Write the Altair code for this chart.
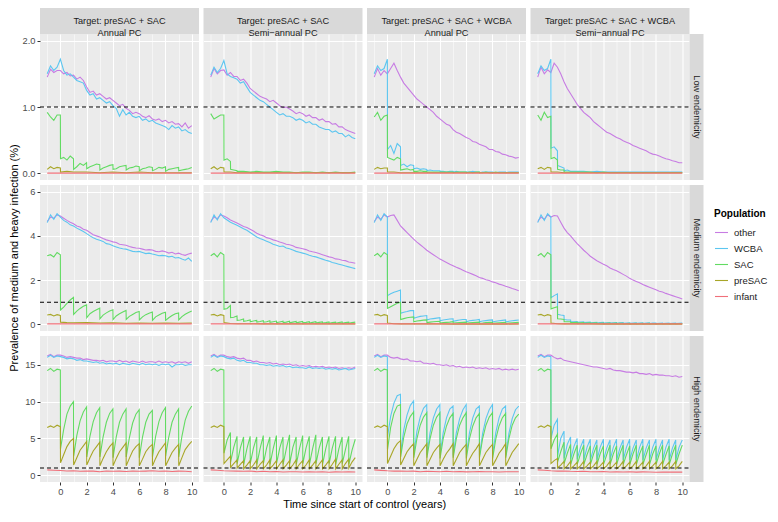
import altair as alt
import pandas as pd

FONT = "Liberation Sans"
POPS = ["other", "WCBA", "SAC", "preSAC", "infant"]
COLORS = ["#C77CE3", "#5CC6F0", "#62DB62", "#A8A628", "#F0707A"]
COL_LABELS = [
    "Target: preSAC + SAC\nAnnual PC",
    "Target: preSAC + SAC\nSemi\u2212annual PC",
    "Target: preSAC + SAC + WCBA\nAnnual PC",
    "Target: preSAC + SAC + WCBA\nSemi\u2212annual PC",
]
ROW_LABELS = ["Low endemicity", "Medium endemicity", "High endemicity"]
X_TITLE = "Time since start of control (years)"
Y_TITLE = "Prevalence of medium and heavy infection (%)"

# ---- time grids (years) ----
TQ = [i / 4 for i in range(-4, 41)]                       # quarterly
TH = [i / 2 for i in range(-2, 21)]                       # half-yearly
TA = [-1, -0.75, -0.5, -0.25] + [k + d for k in range(10) for d in (0, 0.01, 0.25, 0.5, 0.75)] + [10]
TS = [-1, -0.75, -0.5, -0.25] + [k / 2 + d for k in range(20) for d in (0, 0.01, 0.25)] + [10]
TFD = [-1, -0.75, -0.5, -0.25, 0, 0.01, 0.5, 1, 2, 3, 4, 5, 6, 7, 8, 9, 10]
TE = [-1, -0.75, -0.5, -0.25, 0, 0.01, 0.25, 0.5, 0.51, 0.75, 1, 1.01, 1.25, 1.5] + [2 + i / 2 for i in range(17)]
TFLAT = [-1, 10]

# ================= LOW endemicity =================
LOW_C1_OTHER = [1.45, 1.57, 1.52, 1.55,
                1.55, 1.50, 1.52, 1.47, 1.48, 1.42, 1.45, 1.40, 1.30, 1.22, 1.24, 1.18,
                1.20, 1.16, 1.12, 1.14, 1.10, 1.06, 1.02, 1.04, 0.98, 0.95, 0.90, 0.92,
                0.90, 0.86, 0.84, 0.87, 0.82, 0.80, 0.82, 0.78, 0.80, 0.76, 0.78, 0.74,
                0.75, 0.70, 0.76, 0.68, 0.72]
LOW_C1_WCBA = [1.50, 1.62, 1.55, 1.60,
               1.72, 1.55, 1.48, 1.50, 1.45, 1.40, 1.38, 1.36, 1.25, 1.18, 1.20, 1.12,
               1.14, 1.10, 1.06, 1.08, 1.02, 0.98, 0.86, 0.96, 0.88, 0.92, 0.86, 0.84,
               0.86, 0.80, 0.82, 0.78, 0.80, 0.76, 0.74, 0.72, 0.70, 0.66, 0.72, 0.68,
               0.70, 0.64, 0.66, 0.62, 0.60]
LOW_C1_SAC = [0.92, 0.85, 0.80, 0.88,
              0.88, 0.22, 0.24, 0.20, 0.26,
              0.22, 0.06, 0.10, 0.15, 0.12,
              0.16, 0.07, 0.10, 0.12, 0.14,
              0.13, 0.05, 0.08, 0.10, 0.12,
              0.13, 0.06, 0.07, 0.10, 0.11,
              0.12, 0.05, 0.08, 0.09, 0.11,
              0.10, 0.04, 0.07, 0.08, 0.10,
              0.09, 0.04, 0.06, 0.09, 0.08,
              0.10, 0.03, 0.06, 0.07, 0.08,
              0.09, 0.04, 0.05, 0.06, 0.07,
              0.09]
LOW_C1_PRESAC = [0.06, 0.10, 0.07, 0.09, 0.08, 0.02, 0.03, 0.02, 0.02, 0.01, 0.02, 0.01, 0.02, 0.01, 0.01, 0.01, 0.01]
LOW_INF = [0.003, 0.003]

LOW_C2_OTHER = [1.45, 1.58, 1.50, 1.55,
                1.56, 1.48, 1.52, 1.46, 1.46, 1.40, 1.42, 1.36, 1.28, 1.24, 1.20, 1.16,
                1.14, 1.12, 1.08, 1.10, 1.06, 1.02, 0.99, 1.00, 0.97, 0.94, 0.90, 0.92,
                0.90, 0.86, 0.88, 0.84, 0.84, 0.80, 0.82, 0.78, 0.78, 0.74, 0.75, 0.70,
                0.70, 0.66, 0.64, 0.62, 0.60]
LOW_C2_WCBA = [1.48, 1.60, 1.52, 1.58,
               1.70, 1.50, 1.46, 1.44, 1.42, 1.36, 1.38, 1.30, 1.22, 1.18, 1.14, 1.10,
               1.08, 1.04, 1.00, 0.96, 0.92, 0.88, 0.90, 0.86, 0.86, 0.84, 0.80, 0.82,
               0.80, 0.76, 0.78, 0.74, 0.74, 0.70, 0.68, 0.66, 0.66, 0.62, 0.64, 0.60,
               0.60, 0.55, 0.58, 0.54, 0.52]
LOW_C2_SAC = [0.90, 0.82, 0.85, 0.88,
              0.88, 0.20, 0.22, 0.18, 0.06, 0.05, 0.04, 0.03, 0.03, 0.03,
              0.02, 0.03, 0.02, 0.02, 0.03, 0.02, 0.02, 0.01, 0.02, 0.02, 0.01, 0.02, 0.01, 0.02, 0.01, 0.01, 0.02]
LOW_C2_PRESAC = [0.07, 0.10, 0.06, 0.09, 0.08, 0.02, 0.02, 0.01, 0.01, 0.01, 0.01, 0.01, 0.01, 0.01, 0.01, 0.01, 0.01]

LOW_C3_OTHER = [1.45, 1.58, 1.48, 1.55,
                1.50, 1.58, 1.66, 1.55, 1.45, 1.36, 1.30, 1.24, 1.18, 1.12, 1.08, 1.04,
                1.00, 0.96, 0.92, 0.86, 0.82, 0.78, 0.74, 0.72, 0.66, 0.62, 0.60, 0.57,
                0.54, 0.52, 0.48, 0.47, 0.44, 0.42, 0.40, 0.36, 0.36, 0.33, 0.32, 0.29,
                0.28, 0.26, 0.25, 0.23, 0.24]
LOW_C3_WCBA = [1.50, 1.62, 1.55, 1.58,
               1.72, 0.36, 0.42, 0.30, 0.45,
               0.40, 0.12, 0.14, 0.10, 0.13,
               0.12, 0.07, 0.08, 0.06, 0.07,
               0.06, 0.04, 0.05, 0.04, 0.04,
               0.04, 0.03, 0.03, 0.02, 0.03,
               0.03, 0.02, 0.03, 0.02, 0.02,
               0.02, 0.02, 0.02, 0.03, 0.02,
               0.02, 0.01, 0.02, 0.02, 0.02,
               0.02, 0.02, 0.01, 0.02, 0.02,
               0.02, 0.01, 0.02, 0.02, 0.02,
               0.02]
LOW_C3_SAC = [0.85, 0.92, 0.80, 0.86,
              0.88, 0.24, 0.22, 0.20, 0.24,
              0.22, 0.05, 0.06, 0.07, 0.05,
              0.06, 0.03, 0.03, 0.04, 0.03,
              0.03, 0.02, 0.02, 0.02, 0.02,
              0.02, 0.02, 0.02, 0.02, 0.02,
              0.02, 0.01, 0.02, 0.02, 0.02,
              0.02, 0.01, 0.02, 0.01, 0.02,
              0.02, 0.01, 0.01, 0.02, 0.01,
              0.01, 0.01, 0.02, 0.01, 0.01,
              0.01, 0.01, 0.01, 0.01, 0.01,
              0.01]
LOW_C3_PRESAC = [0.06, 0.09, 0.07, 0.08, 0.08, 0.02, 0.02, 0.01, 0.01, 0.01, 0.01, 0.01, 0.01, 0.01, 0.01, 0.01, 0.01]

LOW_C4_OTHER = [1.45, 1.60, 1.50, 1.56,
                1.52, 1.66, 1.60, 1.50, 1.38, 1.28, 1.20, 1.12, 1.04, 0.98, 0.92, 0.88,
                0.84, 0.78, 0.74, 0.70, 0.66, 0.62, 0.60, 0.57, 0.54, 0.52, 0.49, 0.47,
                0.45, 0.42, 0.40, 0.38, 0.36, 0.34, 0.31, 0.29, 0.28, 0.26, 0.24, 0.22,
                0.21, 0.19, 0.18, 0.16, 0.16]
LOW_C4_WCBA = [1.50, 1.62, 1.55, 1.58,
               1.72, 0.38, 0.40, 0.34, 0.12, 0.10, 0.08, 0.04, 0.05, 0.03,
               0.03, 0.03, 0.02, 0.03, 0.02, 0.02, 0.02, 0.02, 0.02, 0.02, 0.02, 0.02, 0.02, 0.02, 0.02, 0.02, 0.02]
LOW_C4_SAC = [0.88, 0.80, 0.92, 0.84,
              0.86, 0.22, 0.24, 0.20, 0.06, 0.05, 0.05, 0.02, 0.02, 0.02,
              0.02, 0.02, 0.02, 0.01, 0.02, 0.01, 0.01, 0.01, 0.01, 0.01, 0.01, 0.01, 0.01, 0.01, 0.01, 0.01, 0.01]
LOW_C4_PRESAC = [0.07, 0.09, 0.06, 0.09, 0.08, 0.02, 0.02, 0.01, 0.01, 0.01, 0.01, 0.01, 0.01, 0.01, 0.01, 0.01, 0.01]

# ================= MEDIUM endemicity =================
MED_C1_OTHER = [4.65, 4.85, 4.80, 4.95,
                4.90, 4.80, 4.70, 4.62, 4.55, 4.45, 4.40, 4.30, 4.25, 4.15, 4.05, 4.00,
                3.95, 3.88, 3.82, 3.78, 3.73, 3.70, 3.62, 3.60, 3.58, 3.52, 3.48, 3.45,
                3.44, 3.40, 3.36, 3.38, 3.36, 3.30, 3.28, 3.32, 3.28, 3.22, 3.26, 3.18,
                3.22, 3.16, 3.12, 3.18, 3.22]
MED_C1_WCBA = [4.60, 4.95, 4.75, 5.00,
               4.85, 4.70, 4.62, 4.50, 4.45, 4.35, 4.28, 4.20, 4.10, 4.00, 3.92, 3.85,
               3.80, 3.75, 3.65, 3.62, 3.55, 3.50, 3.45, 3.42, 3.40, 3.35, 3.30, 3.28,
               3.30, 3.25, 3.20, 3.22, 3.18, 3.15, 3.10, 3.12, 3.10, 3.05, 3.08, 3.00,
               3.02, 2.95, 2.90, 3.00, 2.85]
MED_C1_SAC = [3.10, 3.15, 3.05, 3.25,
              3.15, 0.65, 0.78, 0.95, 1.10,
              1.22, 0.45, 0.60, 0.72, 0.82,
              0.88, 0.30, 0.48, 0.58, 0.66,
              0.73, 0.25, 0.42, 0.52, 0.60,
              0.66, 0.22, 0.38, 0.48, 0.56,
              0.63, 0.22, 0.36, 0.45, 0.54,
              0.58, 0.20, 0.34, 0.44, 0.50,
              0.56, 0.18, 0.34, 0.42, 0.50,
              0.55, 0.18, 0.30, 0.40, 0.48,
              0.52, 0.20, 0.35, 0.46, 0.54,
              0.60]
MED_C1_PRESAC = [0.42, 0.45, 0.38, 0.44, 0.40, 0.10, 0.08, 0.07, 0.08, 0.06, 0.07, 0.05, 0.06, 0.05, 0.06, 0.05, 0.06]
MED_INF = [0.02, 0.02]

MED_C2_OTHER = [4.65, 4.85, 4.78, 4.95,
                4.90, 4.82, 4.72, 4.65, 4.58, 4.50, 4.42, 4.38, 4.30, 4.22, 4.12, 4.05,
                4.00, 3.92, 3.88, 3.82, 3.78, 3.72, 3.68, 3.62, 3.60, 3.55, 3.48, 3.45,
                3.42, 3.38, 3.32, 3.28, 3.25, 3.20, 3.15, 3.10, 3.05, 3.02, 2.96, 2.94,
                2.90, 2.88, 2.82, 2.80, 2.76]
MED_C2_WCBA = [4.60, 4.95, 4.72, 5.00,
               4.82, 4.72, 4.62, 4.55, 4.48, 4.40, 4.32, 4.25, 4.15, 4.05, 3.95, 3.88,
               3.82, 3.76, 3.70, 3.62, 3.58, 3.52, 3.54, 3.45, 3.42, 3.36, 3.30, 3.26,
               3.22, 3.18, 3.12, 3.08, 3.05, 3.00, 2.95, 2.90, 2.86, 2.80, 2.76, 2.72,
               2.68, 2.64, 2.60, 2.56, 2.52]
MED_C2_SAC = [3.10, 3.20, 3.05, 3.25,
              3.15, 0.68, 0.72,
              0.85, 0.30, 0.32,
              0.38, 0.18, 0.20,
              0.24, 0.14, 0.16,
              0.20, 0.12, 0.15,
              0.18, 0.10, 0.13,
              0.17, 0.10, 0.12,
              0.16, 0.09, 0.12,
              0.15, 0.08, 0.11,
              0.14, 0.08, 0.10,
              0.14, 0.07, 0.10,
              0.13, 0.07, 0.10,
              0.13, 0.07, 0.09,
              0.12, 0.06, 0.09,
              0.12, 0.06, 0.09,
              0.11, 0.06, 0.08,
              0.11, 0.05, 0.08,
              0.10, 0.05, 0.08,
              0.11, 0.05, 0.08,
              0.10, 0.05, 0.08,
              0.10]
MED_C2_PRESAC = [0.42, 0.45, 0.38, 0.44, 0.40, 0.08, 0.04, 0.03, 0.03, 0.02, 0.02, 0.02, 0.02, 0.02, 0.02, 0.02, 0.02]

MED_C3_OTHER = [4.65, 4.85, 4.75, 4.95,
                4.85, 4.92, 4.95, 4.70, 4.45, 4.30, 4.15, 4.00, 3.85, 3.72, 3.60, 3.48,
                3.35, 3.25, 3.15, 3.05, 2.95, 2.88, 2.80, 2.72, 2.65, 2.58, 2.52, 2.45,
                2.38, 2.32, 2.26, 2.20, 2.12, 2.08, 2.02, 1.98, 1.92, 1.88, 1.82, 1.78,
                1.72, 1.68, 1.62, 1.58, 1.52]
MED_C3_WCBA = [4.60, 4.95, 4.70, 5.00,
               4.85, 1.30, 1.38, 1.45, 1.50,
               1.55, 0.50, 0.55, 0.58, 0.62,
               0.62, 0.28, 0.32, 0.36, 0.38,
               0.40, 0.20, 0.24, 0.26, 0.28,
               0.30, 0.16, 0.20, 0.22, 0.24,
               0.25, 0.14, 0.17, 0.20, 0.22,
               0.22, 0.12, 0.16, 0.18, 0.20,
               0.22, 0.12, 0.15, 0.17, 0.19,
               0.20, 0.11, 0.14, 0.16, 0.18,
               0.20, 0.10, 0.14, 0.16, 0.18,
               0.20]
MED_C3_SAC = [3.10, 3.20, 3.05, 3.25,
              3.15, 0.72, 0.80, 0.88, 0.95,
              1.00, 0.22, 0.26, 0.30, 0.32,
              0.34, 0.12, 0.15, 0.17, 0.19,
              0.20, 0.08, 0.10, 0.12, 0.13,
              0.14, 0.06, 0.08, 0.09, 0.10,
              0.12, 0.06, 0.07, 0.08, 0.09,
              0.10, 0.05, 0.07, 0.08, 0.09,
              0.10, 0.05, 0.06, 0.08, 0.09,
              0.09, 0.05, 0.06, 0.07, 0.08,
              0.09, 0.04, 0.06, 0.07, 0.08,
              0.09]
MED_C3_PRESAC = [0.42, 0.45, 0.38, 0.44, 0.40, 0.06, 0.03, 0.02, 0.02, 0.02, 0.02, 0.01, 0.02, 0.01, 0.02, 0.01, 0.02]

MED_C4_OTHER = [4.65, 4.85, 4.75, 4.95,
                4.85, 4.92, 4.90, 4.62, 4.35, 4.15, 4.00, 3.82, 3.65, 3.50, 3.35, 3.22,
                3.08, 2.98, 2.88, 2.80, 2.72, 2.65, 2.55, 2.48, 2.42, 2.34, 2.26, 2.18,
                2.08, 2.00, 1.94, 1.88, 1.80, 1.74, 1.68, 1.62, 1.56, 1.50, 1.46, 1.40,
                1.35, 1.30, 1.25, 1.20, 1.15]
MED_C4_WCBA = [4.60, 4.95, 4.70, 5.00,
               4.85, 1.20, 1.30,
               1.38, 0.45, 0.42,
               0.40, 0.22, 0.20,
               0.20, 0.12, 0.12,
               0.13, 0.09, 0.10,
               0.11, 0.08, 0.09,
               0.10, 0.07, 0.08,
               0.09, 0.06, 0.08,
               0.09, 0.06, 0.07,
               0.08, 0.06, 0.07,
               0.08, 0.05, 0.07,
               0.08, 0.05, 0.06,
               0.07, 0.05, 0.06,
               0.07, 0.05, 0.06,
               0.07, 0.04, 0.06,
               0.07, 0.04, 0.06,
               0.06, 0.04, 0.05,
               0.06, 0.04, 0.05,
               0.06, 0.04, 0.05,
               0.06, 0.04, 0.05,
               0.06]
MED_C4_SAC = [3.10, 3.20, 3.05, 3.25,
              3.15, 0.70, 0.75,
              0.80, 0.25, 0.24,
              0.22, 0.12, 0.12,
              0.12, 0.08, 0.08,
              0.09, 0.06, 0.07,
              0.08, 0.05, 0.06,
              0.07, 0.05, 0.06,
              0.07, 0.04, 0.05,
              0.06, 0.04, 0.05,
              0.06, 0.04, 0.05,
              0.06, 0.04, 0.05,
              0.05, 0.03, 0.04,
              0.05, 0.03, 0.04,
              0.05, 0.03, 0.04,
              0.05, 0.03, 0.04,
              0.05, 0.03, 0.04,
              0.04, 0.03, 0.04,
              0.04, 0.03, 0.04,
              0.04, 0.03, 0.04,
              0.04, 0.03, 0.04,
              0.04]
MED_C4_PRESAC = [0.42, 0.45, 0.38, 0.44, 0.40, 0.06, 0.03, 0.02, 0.02, 0.02, 0.01, 0.01, 0.01, 0.01, 0.01, 0.01, 0.01]

# ================= HIGH endemicity =================
HIGH_C1_OTHER = [16.2, 16.4, 16.1, 16.3,
                 16.3, 16.2, 16.0, 16.1, 16.0, 15.9, 15.9, 15.7, 15.8, 15.7, 15.6, 15.6,
                 15.5, 15.6, 15.4, 15.5, 15.5, 15.4, 15.6, 15.4, 15.5, 15.3, 15.5, 15.4,
                 15.3, 15.5, 15.3, 15.4, 15.4, 15.3, 15.5, 15.3, 15.4, 15.3, 15.4, 15.2,
                 15.4, 15.3, 15.4, 15.2, 15.4]
HIGH_C1_WCBA = [16.0, 16.3, 16.0, 16.2,
                16.1, 16.0, 15.8, 15.9, 15.8, 15.6, 15.7, 15.5, 15.5, 15.4, 15.3, 15.4,
                15.2, 15.3, 15.1, 15.2, 15.1, 15.2, 15.0, 15.2, 15.1, 15.0, 15.2, 15.1,
                15.0, 15.2, 15.0, 15.1, 15.0, 15.1, 14.9, 15.1, 15.0, 15.1, 14.7, 15.0,
                15.0, 15.1, 14.9, 15.0, 15.0]
HIGH_C1_SAC = [14.2, 14.5, 14.1, 14.4,
               14.3, 3.6, 6.2, 8.3, 9.4,
               10.0, 2.6, 5.4, 7.4, 8.6,
               9.3, 2.5, 5.3, 7.3, 8.5,
               9.2, 2.5, 5.2, 7.2, 8.4,
               9.0, 2.4, 5.2, 7.2, 8.3,
               9.0, 2.5, 5.1, 7.1, 8.3,
               8.9, 2.4, 5.2, 7.2, 8.3,
               8.8, 2.5, 5.3, 7.3, 8.5,
               9.2, 2.6, 5.2, 7.2, 8.3,
               9.0, 2.5, 5.3, 7.5, 8.7,
               9.4]
HIGH_C1_PRESAC = [6.5, 6.7, 6.5, 6.8,
                  6.6, 1.7, 2.8, 3.9, 4.6,
                  5.0, 1.4, 2.4, 3.4, 4.0,
                  4.6, 1.4, 2.4, 3.3, 3.9,
                  4.5, 1.3, 2.3, 3.2, 3.9,
                  4.4, 1.3, 2.3, 3.2, 3.8,
                  4.4, 1.3, 2.3, 3.3, 3.9,
                  4.3, 1.3, 2.2, 3.2, 3.8,
                  4.2, 1.3, 2.3, 3.2, 3.8,
                  4.4, 1.3, 2.2, 3.1, 3.7,
                  4.2, 1.3, 2.4, 3.5, 4.1,
                  4.6]
HIGH_C1_INF = [0.75, 0.70, 0.65, 0.60, 0.62, 0.55, 0.60, 0.58, 0.50, 0.60, 0.55, 0.58,
               0.52, 0.60, 0.55, 0.58, 0.62, 0.55, 0.60, 0.52, 0.58, 0.55, 0.50]

HIGH_C2_OTHER = [16.2, 16.4, 16.1, 16.3,
                 16.3, 16.1, 16.0, 16.1, 15.9, 15.8, 15.9, 15.6, 15.6, 15.4, 15.5, 15.3,
                 15.3, 15.2, 15.3, 15.1, 15.2, 15.0, 15.1, 15.0, 15.1, 14.9, 15.0, 14.8,
                 14.9, 14.8, 14.9, 14.7, 14.8, 14.7, 14.8, 14.6, 14.7, 14.6, 14.7, 14.5,
                 14.6, 14.5, 14.6, 14.5, 14.7]
HIGH_C2_WCBA = [16.0, 16.3, 16.0, 16.2,
                16.1, 15.9, 15.8, 15.9, 15.6, 15.5, 15.6, 15.3, 15.3, 15.2, 15.2, 15.0,
                15.0, 14.9, 15.0, 14.8, 14.9, 14.8, 14.9, 14.7, 14.8, 14.6, 14.7, 14.6,
                14.6, 14.5, 14.7, 14.5, 14.6, 14.5, 14.6, 14.4, 14.5, 14.4, 14.5, 14.3,
                14.4, 14.5, 14.3, 14.4, 14.5]
HIGH_C2_SAC = [14.2, 14.5, 14.1, 14.4,
               14.3, 3.0, 4.8,
               5.8, 1.8, 3.8,
               5.3, 1.6, 3.7,
               5.2, 1.5, 3.6,
               5.3, 1.6, 3.7,
               5.2, 1.5, 3.6,
               5.4, 1.6, 3.7,
               5.2, 1.5, 3.6,
               5.4, 1.6, 3.7,
               5.2, 1.5, 3.6,
               5.5, 1.6, 3.8,
               5.2, 1.5, 3.6,
               5.4, 1.6, 3.7,
               5.3, 1.5, 3.6,
               5.5, 1.6, 3.7,
               5.2, 1.5, 3.6,
               5.3, 1.6, 3.7,
               5.3, 1.5, 3.6,
               5.2, 1.6, 3.5,
               5.3, 1.5, 3.4,
               4.9]
HIGH_C2_PRESAC = [6.5, 6.7, 6.5, 6.8,
                  6.6, 1.6, 2.1,
                  2.6, 1.1, 1.6,
                  2.1, 1.0, 1.5,
                  2.0, 0.9, 1.4,
                  2.0, 0.9, 1.4,
                  2.1, 0.9, 1.5,
                  2.0, 0.9, 1.4,
                  2.1, 0.9, 1.4,
                  2.0, 0.9, 1.5,
                  2.1, 0.9, 1.4,
                  2.0, 0.9, 1.4,
                  2.1, 0.9, 1.5,
                  2.0, 0.9, 1.4,
                  2.1, 0.9, 1.4,
                  2.0, 0.9, 1.5,
                  2.1, 0.9, 1.4,
                  2.0, 0.9, 1.5,
                  2.2, 0.9, 1.5,
                  2.1, 0.9, 1.6,
                  2.2, 1.0, 1.8,
                  2.4]
HIGH_C2_INF = [0.75, 0.70, 0.62, 0.60, 0.58, 0.55, 0.60, 0.50, 0.55, 0.48, 0.52, 0.45,
               0.50, 0.48, 0.45, 0.50, 0.45, 0.48, 0.42, 0.47, 0.45, 0.48, 0.46]

HIGH_C3_OTHER = [16.2, 16.4, 16.1, 16.3,
                 16.3, 16.0, 15.9, 16.0, 15.8, 15.7, 15.8, 15.5, 15.5, 15.4, 15.5, 15.2,
                 15.2, 15.1, 15.2, 15.0, 15.0, 14.9, 15.0, 14.8, 14.9, 14.7, 14.8, 14.6,
                 14.7, 14.6, 14.7, 14.5, 14.6, 14.5, 14.6, 14.4, 14.5, 14.4, 14.5, 14.3,
                 14.4, 14.3, 14.4, 14.3, 14.4]
HIGH_C3_WCBA = [16.0, 16.3, 16.0, 16.2,
                16.1, 5.2, 8.0, 9.8, 10.8,
                11.0, 3.0, 6.2, 8.2, 9.5,
                10.1, 2.8, 6.0, 7.9, 9.1,
                9.6, 2.8, 5.8, 7.8, 9.0,
                9.6, 2.8, 5.8, 7.8, 9.0,
                9.4, 2.7, 5.8, 7.7, 8.9,
                9.6, 2.8, 5.8, 7.8, 9.0,
                9.4, 2.7, 5.7, 7.7, 8.9,
                9.6, 2.8, 5.8, 7.8, 9.0,
                9.4, 2.7, 5.7, 7.7, 8.9,
                9.4]
HIGH_C3_SAC = [14.2, 14.5, 14.1, 14.4,
               14.3, 3.5, 6.5, 8.4, 9.4,
               9.6, 2.5, 5.2, 7.0, 8.0,
               8.6, 2.4, 5.0, 6.8, 7.9,
               8.5, 2.4, 5.0, 6.8, 7.9,
               8.5, 2.3, 5.0, 6.7, 7.8,
               8.4, 2.4, 5.0, 6.8, 7.8,
               8.5, 2.3, 5.0, 6.7, 7.8,
               8.4, 2.4, 5.0, 6.8, 7.9,
               8.5, 2.3, 4.9, 6.7, 7.8,
               8.4, 2.4, 5.0, 6.8, 7.8,
               8.3]
HIGH_C3_PRESAC = [6.5, 6.7, 6.5, 6.8,
                  6.6, 1.6, 2.6, 3.6, 4.3,
                  4.7, 1.4, 2.3, 3.2, 3.8,
                  4.3, 1.3, 2.2, 3.1, 3.7,
                  4.3, 1.3, 2.2, 3.1, 3.7,
                  4.2, 1.3, 2.2, 3.0, 3.6,
                  4.3, 1.3, 2.2, 3.1, 3.7,
                  4.2, 1.3, 2.2, 3.0, 3.6,
                  4.3, 1.3, 2.2, 3.1, 3.7,
                  4.2, 1.3, 2.1, 3.0, 3.6,
                  4.3, 1.3, 2.2, 3.1, 3.7,
                  4.3]
HIGH_C3_INF = [0.75, 0.68, 0.62, 0.58, 0.60, 0.55, 0.58, 0.50, 0.55, 0.52, 0.48, 0.55,
               0.50, 0.52, 0.47, 0.50, 0.52, 0.48, 0.50, 0.46, 0.50, 0.48, 0.50]

HIGH_C4_OTHER = [16.2, 16.4, 16.1, 16.3,
                 16.3, 16.0, 15.8, 15.9, 15.6, 15.5, 15.4, 15.3, 15.2, 15.1, 15.0, 14.9,
                 14.8, 14.7, 14.7, 14.6, 14.5, 14.4, 14.5, 14.3, 14.2, 14.2, 14.1, 14.0,
                 14.0, 13.9, 14.0, 13.8, 13.8, 13.7, 13.8, 13.6, 13.7, 13.6, 13.6, 13.5,
                 13.5, 13.4, 13.5, 13.3, 13.4]
HIGH_C4_WCBA = [16.0, 16.3, 16.0, 16.2,
                16.1, 5.0, 6.8,
                7.6, 2.6, 5.0,
                6.0, 2.3, 4.2,
                5.2, 2.2, 3.9,
                5.0, 2.2, 3.8,
                4.9, 2.1, 3.8,
                4.9, 2.1, 3.7,
                4.8, 2.1, 3.8,
                4.9, 2.1, 3.7,
                4.8, 2.1, 3.8,
                4.9, 2.1, 3.7,
                4.8, 2.1, 3.8,
                4.9, 2.1, 3.7,
                4.8, 2.1, 3.8,
                4.9, 2.1, 3.7,
                4.8, 2.1, 3.8,
                4.9, 2.1, 3.7,
                4.8, 2.1, 3.8,
                4.9, 2.1, 3.7,
                4.8, 2.1, 3.8,
                4.8]
HIGH_C4_SAC = [14.2, 14.5, 14.1, 14.4,
               14.3, 3.6, 4.8,
               5.6, 1.8, 3.2,
               4.5, 1.6, 3.0,
               4.2, 1.5, 2.9,
               4.1, 1.5, 2.9,
               4.1, 1.5, 2.8,
               4.0, 1.5, 2.9,
               4.1, 1.5, 2.9,
               4.0, 1.5, 2.8,
               4.1, 1.5, 2.9,
               4.0, 1.5, 2.9,
               4.1, 1.5, 2.8,
               4.0, 1.5, 2.9,
               4.1, 1.5, 2.9,
               4.0, 1.5, 2.8,
               4.1, 1.5, 2.9,
               4.0, 1.5, 2.9,
               4.1, 1.5, 2.8,
               4.0, 1.5, 2.9,
               4.1, 1.5, 2.9,
               4.1]
HIGH_C4_PRESAC = [6.5, 6.7, 6.5, 6.8,
                  6.6, 1.6, 2.0,
                  2.3, 1.0, 1.4,
                  1.9, 0.9, 1.3,
                  1.9, 0.9, 1.3,
                  1.8, 0.9, 1.3,
                  1.9, 0.9, 1.3,
                  1.8, 0.9, 1.3,
                  1.9, 0.9, 1.3,
                  1.8, 0.9, 1.3,
                  1.9, 0.9, 1.3,
                  1.8, 0.9, 1.3,
                  1.9, 0.9, 1.3,
                  1.8, 0.9, 1.3,
                  1.9, 0.9, 1.3,
                  1.8, 0.9, 1.3,
                  1.9, 0.9, 1.3,
                  1.8, 0.9, 1.3,
                  1.9, 0.9, 1.3,
                  1.8, 0.9, 1.3,
                  1.9, 0.9, 1.3,
                  1.9]
HIGH_C4_INF = [0.75, 0.70, 0.62, 0.58, 0.60, 0.55, 0.52, 0.55, 0.50, 0.48, 0.52, 0.46,
               0.48, 0.45, 0.50, 0.44, 0.47, 0.45, 0.43, 0.46, 0.44, 0.45, 0.44]

# (name, row, col, population, times, values)
SERIES = [
    ("L1o", 0, 0, "other", TQ, LOW_C1_OTHER), ("L1w", 0, 0, "WCBA", TQ, LOW_C1_WCBA),
    ("L1s", 0, 0, "SAC", TA, LOW_C1_SAC), ("L1p", 0, 0, "preSAC", TFD, LOW_C1_PRESAC),
    ("L1i", 0, 0, "infant", TFLAT, LOW_INF),
    ("L2o", 0, 1, "other", TQ, LOW_C2_OTHER), ("L2w", 0, 1, "WCBA", TQ, LOW_C2_WCBA),
    ("L2s", 0, 1, "SAC", TE, LOW_C2_SAC), ("L2p", 0, 1, "preSAC", TFD, LOW_C2_PRESAC),
    ("L2i", 0, 1, "infant", TFLAT, LOW_INF),
    ("L3o", 0, 2, "other", TQ, LOW_C3_OTHER), ("L3w", 0, 2, "WCBA", TA, LOW_C3_WCBA),
    ("L3s", 0, 2, "SAC", TA, LOW_C3_SAC), ("L3p", 0, 2, "preSAC", TFD, LOW_C3_PRESAC),
    ("L3i", 0, 2, "infant", TFLAT, LOW_INF),
    ("L4o", 0, 3, "other", TQ, LOW_C4_OTHER), ("L4w", 0, 3, "WCBA", TE, LOW_C4_WCBA),
    ("L4s", 0, 3, "SAC", TE, LOW_C4_SAC), ("L4p", 0, 3, "preSAC", TFD, LOW_C4_PRESAC),
    ("L4i", 0, 3, "infant", TFLAT, LOW_INF),
    ("M1o", 1, 0, "other", TQ, MED_C1_OTHER), ("M1w", 1, 0, "WCBA", TQ, MED_C1_WCBA),
    ("M1s", 1, 0, "SAC", TA, MED_C1_SAC), ("M1p", 1, 0, "preSAC", TFD, MED_C1_PRESAC),
    ("M1i", 1, 0, "infant", TFLAT, MED_INF),
    ("M2o", 1, 1, "other", TQ, MED_C2_OTHER), ("M2w", 1, 1, "WCBA", TQ, MED_C2_WCBA),
    ("M2s", 1, 1, "SAC", TS, MED_C2_SAC), ("M2p", 1, 1, "preSAC", TFD, MED_C2_PRESAC),
    ("M2i", 1, 1, "infant", TFLAT, MED_INF),
    ("M3o", 1, 2, "other", TQ, MED_C3_OTHER), ("M3w", 1, 2, "WCBA", TA, MED_C3_WCBA),
    ("M3s", 1, 2, "SAC", TA, MED_C3_SAC), ("M3p", 1, 2, "preSAC", TFD, MED_C3_PRESAC),
    ("M3i", 1, 2, "infant", TFLAT, MED_INF),
    ("M4o", 1, 3, "other", TQ, MED_C4_OTHER), ("M4w", 1, 3, "WCBA", TS, MED_C4_WCBA),
    ("M4s", 1, 3, "SAC", TS, MED_C4_SAC), ("M4p", 1, 3, "preSAC", TFD, MED_C4_PRESAC),
    ("M4i", 1, 3, "infant", TFLAT, MED_INF),
    ("H1o", 2, 0, "other", TQ, HIGH_C1_OTHER), ("H1w", 2, 0, "WCBA", TQ, HIGH_C1_WCBA),
    ("H1s", 2, 0, "SAC", TA, HIGH_C1_SAC), ("H1p", 2, 0, "preSAC", TA, HIGH_C1_PRESAC),
    ("H1i", 2, 0, "infant", TH, HIGH_C1_INF),
    ("H2o", 2, 1, "other", TQ, HIGH_C2_OTHER), ("H2w", 2, 1, "WCBA", TQ, HIGH_C2_WCBA),
    ("H2s", 2, 1, "SAC", TS, HIGH_C2_SAC), ("H2p", 2, 1, "preSAC", TS, HIGH_C2_PRESAC),
    ("H2i", 2, 1, "infant", TH, HIGH_C2_INF),
    ("H3o", 2, 2, "other", TQ, HIGH_C3_OTHER), ("H3w", 2, 2, "WCBA", TA, HIGH_C3_WCBA),
    ("H3s", 2, 2, "SAC", TA, HIGH_C3_SAC), ("H3p", 2, 2, "preSAC", TA, HIGH_C3_PRESAC),
    ("H3i", 2, 2, "infant", TH, HIGH_C3_INF),
    ("H4o", 2, 3, "other", TQ, HIGH_C4_OTHER), ("H4w", 2, 3, "WCBA", TS, HIGH_C4_WCBA),
    ("H4s", 2, 3, "SAC", TS, HIGH_C4_SAC), ("H4p", 2, 3, "preSAC", TS, HIGH_C4_PRESAC),
    ("H4i", 2, 3, "infant", TH, HIGH_C4_INF),
]

records = []
for name, r, c, pop, ts, vs in SERIES:
    if len(ts) != len(vs):
        raise ValueError(f"{name}: {len(ts)} times vs {len(vs)} values")
    for t, v in zip(ts, vs):
        records.append({"row": r, "col": c, "pop": pop, "t": t, "v": v})
df = pd.DataFrame(records)

# ---- layout ----
W, H = 159, 146
GX, GY = 4.5, 5
STRIP_H, STRIP_W = 26, 14
XDOM = [-1.55, 10.55]
YDOMS = [[-0.1, 2.1], [-0.3, 6.3], [-0.9, 18.9]]
YVALS = [[0, 0.25, 0.5, 0.75, 1, 1.25, 1.5, 1.75, 2],
         [0, 1, 2, 3, 4, 5, 6],
         [0, 2.5, 5, 7.5, 10, 12.5, 15, 17.5]]
YMAJOR = ["round(datum.value * 4) % 2 === 0", "datum.value % 2 === 0", "datum.value % 5 === 0"]
YFMT = [".1f", "d", "d"]
XMAJOR = "datum.value % 2 === 0"
LABEL_COLOR = "#4D4D4D"
TICK_COLOR = "#333333"
DUMMY = pd.DataFrame({"k": [0]})


def cond(test, a, b):
    return {"condition": {"test": test, "value": a}, "value": b}


def x_axis(bottom):
    common = dict(values=list(range(-1, 11)), grid=True, gridColor="white",
                  gridWidth=cond(XMAJOR, 1.1, 0.5), domain=False, title=None)
    if bottom:
        return alt.Axis(**common, format="d", labelExpr=f"{XMAJOR} ? datum.label : ''",
                        tickOpacity=cond(XMAJOR, 1, 0), tickColor=TICK_COLOR, tickSize=3,
                        tickWidth=1, labelColor=LABEL_COLOR, labelFont=FONT, labelFontSize=9.3,
                        labelPadding=2, labelFlush=False, labelOverlap=False)
    return alt.Axis(**common, labels=False, ticks=False)


def y_axis(r, left):
    test = YMAJOR[r]
    common = dict(values=YVALS[r], grid=True, gridColor="white",
                  gridWidth=cond(test, 1.1, 0.5), domain=False, title=None)
    if left:
        return alt.Axis(**common, format=YFMT[r], labelExpr=f"{test} ? datum.label : ''",
                        tickOpacity=cond(test, 1, 0), tickColor=TICK_COLOR, tickSize=3,
                        tickWidth=1, labelColor=LABEL_COLOR, labelFont=FONT, labelFontSize=9.3,
                        labelPadding=2, labelFlush=False, labelOverlap=False)
    return alt.Axis(**common, labels=False, ticks=False)


LEGEND = alt.Legend(title="Population", orient="none", legendX=674, legendY=175,
                    symbolType="stroke", symbolSize=169, symbolStrokeWidth=1.1,
                    labelFont=FONT, labelFontSize=9.5, labelColor="#1A1A1A",
                    titleFont=FONT, titleFontSize=10, titleFontWeight="bold", titleColor="black",
                    rowPadding=4, titlePadding=6, labelOffset=5, padding=0)


def panel(r, c):
    sub = df[(df["row"] == r) & (df["col"] == c)]
    lines = alt.Chart(sub).mark_line(strokeWidth=1.1).encode(
        x=alt.X("t:Q", scale=alt.Scale(domain=XDOM, nice=False, zero=False), axis=x_axis(r == 2)),
        y=alt.Y("v:Q", scale=alt.Scale(domain=YDOMS[r], nice=False, zero=False), axis=y_axis(r, c == 0)),
        color=alt.Color("pop:N", scale=alt.Scale(domain=POPS, range=COLORS), legend=LEGEND),
    )
    rule = alt.Chart(DUMMY).mark_rule(color="black", strokeDash=[4, 3], strokeWidth=1.1).encode(
        y=alt.datum(1), x=alt.value(0), x2=alt.value(W))
    layers = [lines, rule]
    if r == 0:
        layers.append(alt.Chart(DUMMY).mark_rect(fill="#D9D9D9").encode(
            x=alt.value(0), x2=alt.value(W), y=alt.value(-STRIP_H), y2=alt.value(0)))
        layers.append(alt.Chart(DUMMY).mark_text(
            font=FONT, fontSize=9.2, color="#1A1A1A", lineBreak="\n", lineHeight=11.5,
            align="center", baseline="middle").encode(
            x=alt.value(W / 2), y=alt.value(-STRIP_H / 2), text=alt.value(COL_LABELS[c])))
    if c == 3:
        layers.append(alt.Chart(DUMMY).mark_rect(fill="#D9D9D9").encode(
            x=alt.value(W), x2=alt.value(W + STRIP_W), y=alt.value(0), y2=alt.value(H)))
        layers.append(alt.Chart(DUMMY).mark_text(
            font=FONT, fontSize=9.2, color="#1A1A1A", angle=90,
            align="center", baseline="middle").encode(
            x=alt.value(W + STRIP_W / 2), y=alt.value(H / 2), text=alt.value(ROW_LABELS[r])))
    if r == 2 and c == 1:
        layers.append(alt.Chart(DUMMY).mark_text(
            font=FONT, fontSize=11, color="black", align="center", baseline="middle").encode(
            x=alt.value(W + GX / 2), y=alt.value(H + 23), text=alt.value(X_TITLE)))
    if r == 1 and c == 0:
        layers.append(alt.Chart(DUMMY).mark_text(
            font=FONT, fontSize=11, color="black", angle=270, align="center", baseline="middle").encode(
            x=alt.value(-25), y=alt.value(H / 2), text=alt.value(Y_TITLE)))
    return alt.layer(*layers).properties(width=W, height=H)


chart = (
    alt.concat(*[panel(r, c) for r in range(3) for c in range(4)],
               columns=4, spacing={"row": GY, "column": GX}, bounds="flush")
    .resolve_scale(color="shared")
    .properties(padding=0)
    .configure_view(fill="#EBEBEB", stroke=None)
    .configure_axis(labelFont=FONT, titleFont=FONT)
)

chart.save("out.html", embed_options={"renderer": "svg", "actions": False})
